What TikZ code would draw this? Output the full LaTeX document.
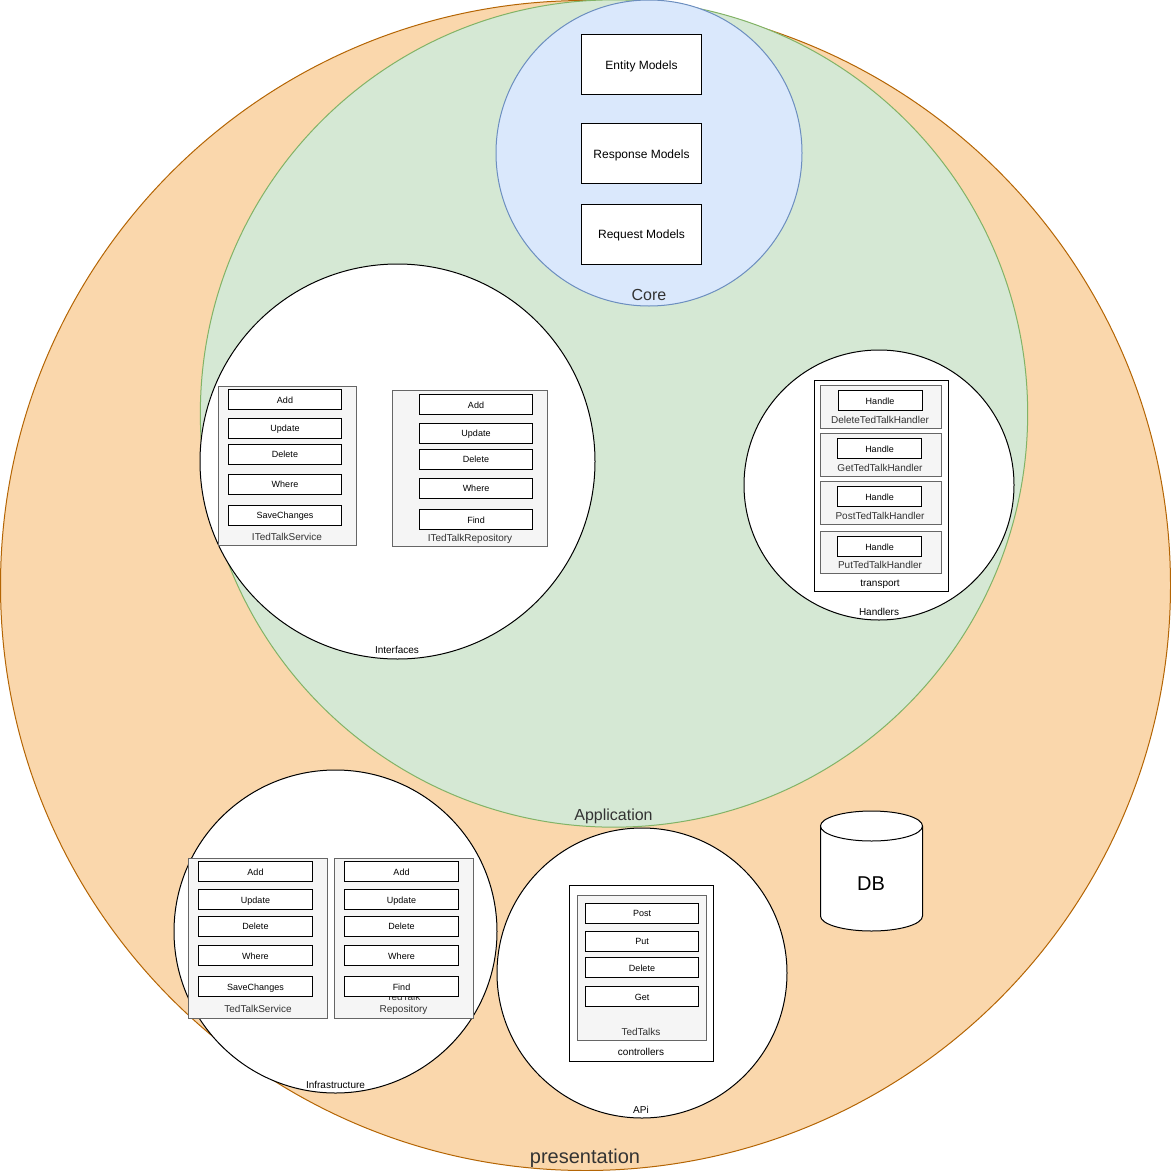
\documentclass[tikz,border=0pt]{standalone}
\usepackage{fontspec}
\setmainfont{Liberation Sans}
\definecolor{orangefill}{HTML}{FAD7AC}
\definecolor{orangeline}{HTML}{B46504}
\definecolor{greenfill}{HTML}{D5E8D4}
\definecolor{greenline}{HTML}{82B366}
\definecolor{bluefill}{HTML}{DAE8FC}
\definecolor{blueline}{HTML}{6C8EBF}
\definecolor{groupfill}{HTML}{F5F5F5}
\definecolor{groupline}{HTML}{666666}
\definecolor{grouptext}{HTML}{333333}
\tikzset{
	ring/.style={circle, draw, line width=0.75pt, inner sep=0pt, outer sep=0pt, fill=white},
	model/.style={rectangle, draw, line width=0.75pt, fill=white, inner sep=0pt, outer sep=0pt, minimum width=90pt, minimum height=45pt, text height=8.7pt, text depth=1.9pt, font=\fontsize{9}{10.8}\selectfont},
	method/.style={rectangle, draw, line width=0.75pt, fill=white, inner sep=0pt, outer sep=0pt, minimum width=85pt, minimum height=15pt, text height=6.7pt, text depth=1.4pt, font=\fontsize{6.75}{8}\selectfont},
	handle/.style={method, minimum width=63pt},
	group/.style={rectangle, draw=groupline, line width=0.75pt, fill=groupfill, inner sep=0pt, outer sep=0pt},
	frame/.style={rectangle, draw, line width=0.75pt, fill=white, inner sep=0pt, outer sep=0pt},
	small/.style={inner sep=0pt, text height=7.1pt, text depth=1.6pt, font=\fontsize{7.5}{9}\selectfont},
	grouplabel/.style={small, text=grouptext},
	big/.style={inner sep=0pt, text=grouptext, font=\fontsize{12}{14}\selectfont},
}
\begin{document}
\begin{tikzpicture}[x=0.75pt, y=-0.75pt]
	\useasboundingbox (0,0) rectangle (1171,1171);

	\node[ring, draw=orangeline, fill=orangefill, minimum size=877.5pt] (presentation) at (585.5,585.5) {};
	\node[ring, draw=greenline, fill=greenfill, minimum size=620.5pt] (application) at (614,413.5) {};
	\node[ring, draw=blueline, fill=bluefill, minimum size=229.5pt] (core) at (649,153) {};
	\node[big] at (649,295) (corelabel) {Core};
	\node[big] at (613.5,816.5) (applicationlabel) {Application};
	\node[big, font=\fontsize{15}{18}\selectfont] at (585,1158) (presentationlabel) {presentation};

	\node[model] (entity) at (641.5,64.5) {Entity Models};
	\node[model] (response) at (641.5,153.5) {Response Models};
	\node[model] (request) at (641.5,234) {Request Models};

	\node[ring, minimum size=296.25pt] (interfaces) at (397.5,461.5) {};
	\node[small] (interfaceslabel) at (397,650) {Interfaces};
	\node[group, minimum width=103.5pt, minimum height=119.25pt] (iservice) at (287,465.5) {};
	\node[grouplabel] (iservicelabel) at (287,537) {ITedTalkService};
	\node[method] (iadd) at (285,399.5) {Add};
	\node[method] (iupdate) at (285,428) {Update};
	\node[method] (idelete) at (285,454) {Delete};
	\node[method] (iwhere) at (285,484) {Where};
	\node[method] (isave) at (285,515) {SaveChanges};
	\node[group, minimum width=116pt, minimum height=117pt] (irepo) at (470,468.5) {};
	\node[grouplabel] (irepolabel) at (470,538) {ITedTalkRepository};
	\node[method] (radd) at (476,404.5) {Add};
	\node[method] (rupdate) at (476,433) {Update};
	\node[method] (rdelete) at (476,459) {Delete};
	\node[method] (rwhere) at (476,488) {Where};
	\node[method] (rfind) at (476,519.5) {Find};

	\node[ring, minimum size=202.5pt] (handlers) at (879,485) {};
	\node[small] (handlerslabel) at (879,612) {Handlers};
	\node[frame, minimum width=100.5pt, minimum height=158.25pt] (transport) at (881,485.5) {};
	\node[small] (transportlabel) at (880,583) {transport};
	\node[group, minimum width=90.75pt, minimum height=32pt] (deletebox) at (880.5,407) {};
	\node[grouplabel] (deletelabel) at (880,420) {DeleteTedTalkHandler};
	\node[handle] (deletehandle) at (880,400.5) {Handle};
	\node[group, minimum width=90.75pt, minimum height=32pt] (getbox) at (880.5,455) {};
	\node[grouplabel] (getlabel) at (880,468) {GetTedTalkHandler};
	\node[handle] (gethandle) at (879.5,448.5) {Handle};
	\node[group, minimum width=90.75pt, minimum height=32pt] (postbox) at (880.5,503) {};
	\node[grouplabel] (postlabel) at (880,516) {PostTedTalkHandler};
	\node[handle] (posthandle) at (879.5,496.5) {Handle};
	\node[group, minimum width=90.75pt, minimum height=32pt] (putbox) at (880.5,552.5) {};
	\node[grouplabel] (putlabel) at (880,565) {PutTedTalkHandler};
	\node[handle] (puthandle) at (879.5,546.5) {Handle};

	\node[ring, minimum size=242.25pt] (infrastructure) at (335.5,931.5) {};
	\node[small] (infrastructurelabel) at (335.5,1085) {Infrastructure};
	\node[group, minimum width=104.25pt, minimum height=120pt] (service) at (257.5,938) {};
	\node[grouplabel] (servicelabel) at (258,1009) {TedTalkService};
	\node[method] (sadd) at (255.5,871.5) {Add};
	\node[method] (supdate) at (255.5,899.5) {Update};
	\node[method] (sdelete) at (255.5,926) {Delete};
	\node[method] (swhere) at (255.5,955.5) {Where};
	\node[method] (ssave) at (255.5,986.5) {SaveChanges};
	\node[group, minimum width=104.25pt, minimum height=120pt] (repo) at (403.5,938) {};
	\node[small, text height=, text depth=, text=grouptext, align=center] (repolabel) at (403.5,1004) {TedTalk\\Repository};
	\node[method] (tadd) at (401.5,871.5) {Add};
	\node[method] (tupdate) at (401.5,899.5) {Update};
	\node[method] (tdelete) at (401.5,926) {Delete};
	\node[method] (twhere) at (401.5,955.5) {Where};
	\node[method] (tfind) at (401.5,986.5) {Find};

	\node[ring, minimum size=217.5pt] (api) at (642,973) {};
	\node[small] (apilabel) at (641,1110) {APi};
	\node[frame, minimum width=108pt, minimum height=132pt] (controllers) at (641.75,973) {};
	\node[small] (controllerslabel) at (641,1052) {controllers};
	\node[group, minimum width=96.5pt, minimum height=108.75pt] (tedtalks) at (641.75,967.75) {};
	\node[grouplabel] (tedtalkslabel) at (641,1032) {TedTalks};
	\node[method] (post) at (642,913) {Post};
	\node[method] (put) at (642,941) {Put};
	\node[method] (delete) at (642,967.5) {Delete};
	\node[method] (get) at (642,996.5) {Get};

	\draw[line width=0.75pt, fill=white] (820.5,826) -- (820.5,916) arc[start angle=180, end angle=360, x radius=38.25pt, y radius=11.25pt] -- (922.5,826) arc[start angle=0, end angle=180, x radius=38.25pt, y radius=11.25pt] arc[start angle=180, end angle=360, x radius=38.25pt, y radius=11.25pt];
	\node[big, text=black, font=\fontsize{15}{18}\selectfont] (dblabel) at (871,884) {DB};
\end{tikzpicture}
\end{document}
